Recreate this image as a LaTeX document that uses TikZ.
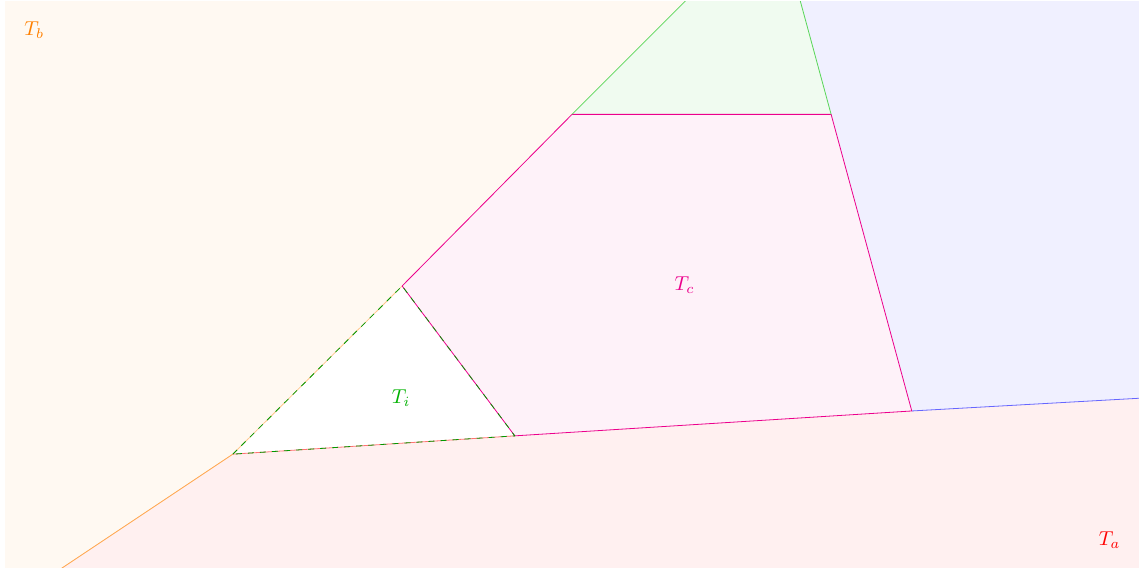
\documentclass[tikz,border=0pt]{standalone}
\usepackage{amsmath}
\usepackage{amssymb}
\usepackage[dvipsnames, x11names]{xcolor}
\usepackage{tikz}
\usetikzlibrary{positioning}

\begin{document}
\begin{tikzpicture}[
    region/.style={draw=none},
    bound/.style={line width=0.4pt},
    trace/.style={dashed, green!60!black, line width=0.4pt}
  ]
    \useasboundingbox (0,0) rectangle (20,10);
    \clip (0.09,0.07) rectangle (19.91,9.98);
    % vertices
    \coordinate (A) at (4.07,2.06);
    \coordinate (B) at (7.03,5.0);
    \coordinate (C) at (9.0,2.38);
    \coordinate (P) at (10.0,8.0);
    \coordinate (Q) at (14.53,8.0);
    \coordinate (R) at (15.94,2.815);
    \coordinate (lo) at (0.98,0.0);
    \coordinate (ri) at (20.5,3.07);
    \coordinate (tl) at (12.5,10.5);
    \coordinate (tr) at (13.85,10.5);
    % regions
    \fill[region, orange!5] (0,0) rectangle (20,10);
    \fill[region, red!6] (A) -- (lo) -- (20.5,-0.5) -- (ri) -- (R) -- (C) -- cycle;
    \fill[region, blue!6] (R) -- (ri) -- (20.5,10.5) -- (tr) -- (Q) -- cycle;
    \fill[region, green!75!black!6] (P) -- (tl) -- (tr) -- (Q) -- cycle;
    \fill[region, magenta!5] (B) -- (P) -- (Q) -- (R) -- (C) -- cycle;
    \fill[region, white] (A) -- (B) -- (C) -- cycle;
    % boundaries
    \draw[bound, orange!70] (lo) -- (A);
    \draw[bound, orange!45] (A) -- (B);
    \draw[bound, red!55] (A) -- (C);
    \draw[bound, magenta] (B) -- (P) -- (Q) -- (R) -- (C) -- (B);
    \draw[bound, green!75!black!65] (P) -- (tl);
    \draw[bound, green!75!black!65] (Q) -- (tr);
    \draw[bound, blue!60] (R) -- (ri);
    \draw[trace] (A) -- (B) -- (C) -- cycle;
    % labels
    \node[orange] (Tb) at (0.6,9.47) {$T_b$};
    \node[red] (Ta) at (19.4,0.56) {$T_a$};
    \node[magenta] (Tc) at (11.97,5.02) {$T_c$};
    \node[green!70!black] (Ti) at (7.01,3.04) {$T_i$};
\end{tikzpicture}
\end{document}
